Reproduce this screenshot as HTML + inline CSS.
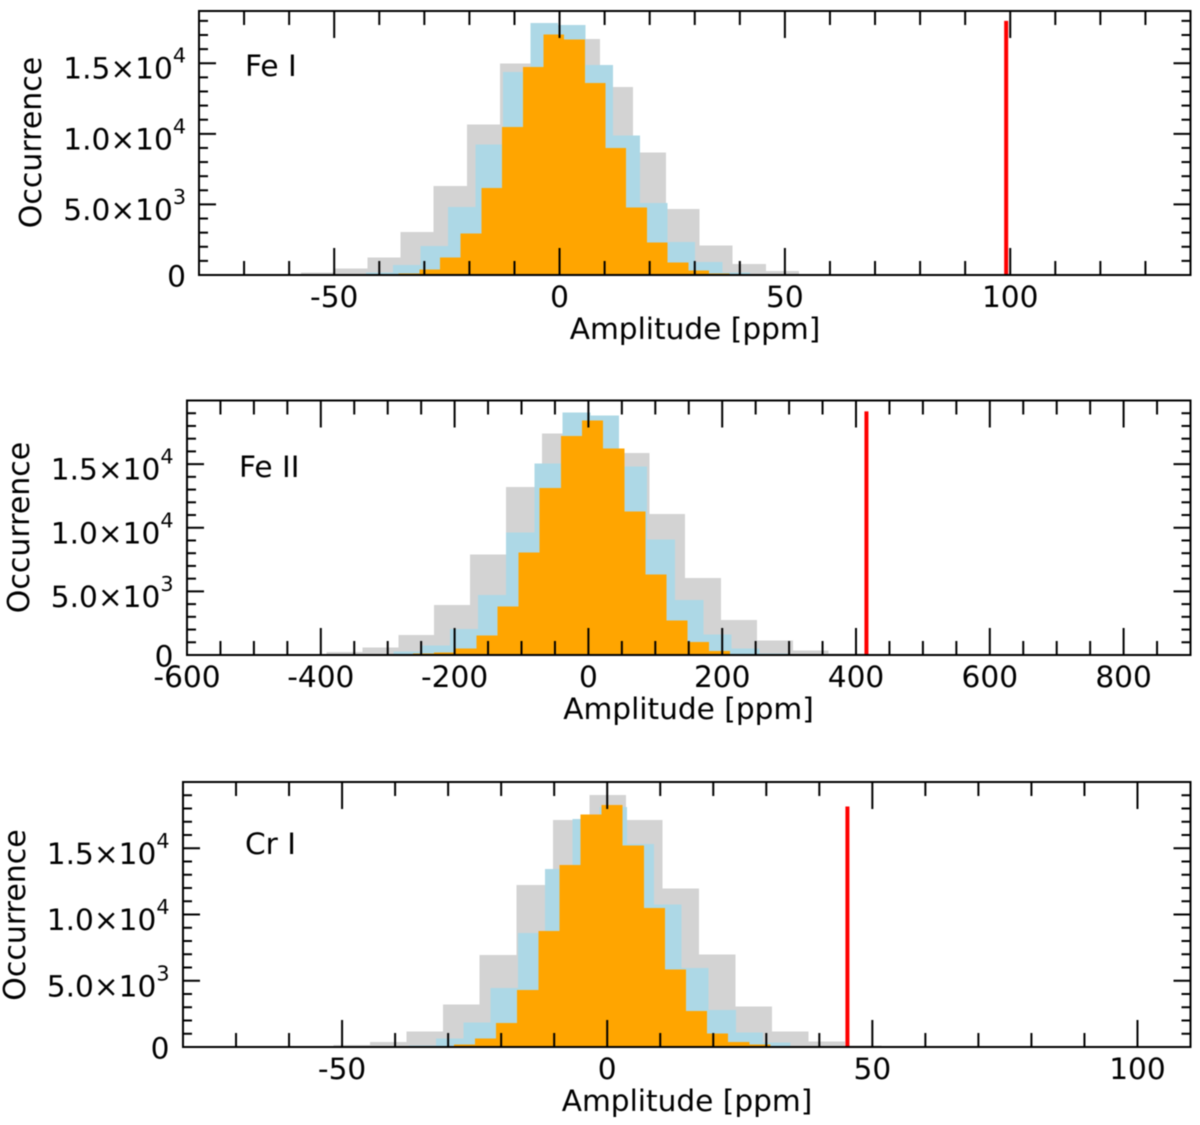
<!DOCTYPE html>
<html lang="en">
<head>
<meta charset="utf-8">
<title>Amplitude histograms</title>
<style>
html,body{margin:0;padding:0;background:#fff;}
svg{display:block;font-family:"DejaVu Sans","Liberation Sans",sans-serif;fill:#000;filter:blur(0.5px);}
</style>
</head>
<body>
<svg id="chart" xmlns="http://www.w3.org/2000/svg" width="1200" height="1125" viewBox="0 0 1200 1125"></svg>
<script>
// ---- Shared tick data
const yTickValues = [0, 5000, 10000, 15000];
const yTickMantissas = ['0', '5.0×10', '1.0×10', '1.5×10'];
const yTickExponents = ['', '3', '4', '4'];

// ---- Fe I data
const feIXTicks = [-50, 0, 50, 100];
const feIGrayBins = [-57.4, 7.37];
const feIGrayCounts = [165, 471, 1225, 3038, 6288, 10668, 14978, 17000, 16720, 13306, 8690, 4686, 2096, 777, 283, 70];
const feIBlueBins = [-43, 6.09];
const feIBlueCounts = [165, 706, 2049, 4828, 9232, 14366, 17851, 17710, 14884, 9891, 5110, 2355, 918, 165];
const feIOrangeBins = [-35.7, 4.59];
const feIOrangeCounts = [94, 400, 1248, 2944, 6147, 10480, 14719, 17027, 16697, 13588, 8996, 4781, 2308, 895, 306, 94];
const feIMeasured = [99.1, 18000];

// ---- Fe II data
const feIIXTicks = [-600, -400, -200, 0, 200, 400, 600, 800];
const feIIGrayBins = [-391.3, 53.6];
const feIIGrayCounts = [235, 576, 1570, 3924, 7900, 13185, 17396, 18574, 15879, 11066, 6069, 2747, 1125, 366, 131];
const feIIBlueBins = [-291.2, 42.1];
const feIIBlueCounts = [262, 732, 2040, 4709, 9627, 15068, 19044, 18835, 14833, 9078, 4316, 1622, 523, 131];
const feIIOrangeBins = [-262.4, 31.6];
const feIIOrangeCounts = [131, 183, 523, 1517, 3793, 8057, 13132, 17213, 18443, 16245, 11275, 6331, 2721, 1020, 314, 78];
const feIIMeasured = [415.6, 19150];

// ---- Cr I data
const crIXTicks = [-50, 0, 50, 100];
const crIGrayBins = [-51.6, 6.89];
const crIGrayCounts = [151, 377, 1156, 3217, 6936, 12213, 17115, 19024, 17115, 11962, 6986, 3041, 1156, 402, 126];
const crIBlueBins = [-37.4, 5.14];
const crIBlueCounts = [126, 653, 1834, 4448, 8620, 13420, 17216, 18095, 15304, 10756, 5956, 2789, 1106, 352];
const crIOrangeBins = [-32.9, 3.98];
const crIOrangeCounts = [50, 176, 653, 1809, 4297, 8745, 13747, 17541, 18270, 15204, 10480, 5856, 2714, 1030, 377, 176];
const crIMeasured = [45.3, 18150];

const NS = 'http://www.w3.org/2000/svg';
const root = document.getElementById('chart');
const FONT = 29.6;

function node(tag, parent, attrs) {
  const el = document.createElementNS(NS, tag);
  for (const k in attrs) el.setAttribute(k, attrs[k]);
  parent.appendChild(el);
  return el;
}

function drawBars(g, bins, counts, color, x, y, base, seriesName) {
  const start = bins[0], width = bins[1];
  counts.forEach(function (c, i) {
    const x0 = x(start + i * width), x1 = x(start + (i + 1) * width);
    const r = node('rect', g, {x: x0, y: y(c), width: x1 - x0, height: base - y(c), fill: color, 'shape-rendering': 'crispEdges'});
    
    
  });
}

function drawPanel(p) {
  const g = node('g', root, {});
  
  

  const x = function (v) { return p.left + (v - p.xMin) / (p.xMax - p.xMin) * (p.right - p.left); };
  const y = function (v) { return p.bottom - (v / p.yMax) * (p.bottom - p.top); };

  drawBars(g, p.grayBins, p.grayCounts, '#d3d3d3', x, y, p.bottom, p.name + '-all-lines');
  drawBars(g, p.blueBins, p.blueCounts, '#add8e6', x, y, p.bottom, p.name + '-subset-lines');
  drawBars(g, p.orangeBins, p.orangeCounts, '#ffa500', x, y, p.bottom, p.name + '-best-lines');

  const red = node('line', g, {x1: x(p.measured[0]), x2: x(p.measured[0]), y1: y(p.measured[1]), y2: p.bottom, stroke: '#ff0000', 'stroke-width': 4});
  
  

  // x ticks (minor + major, top and bottom, pointing inward)
  for (let v = p.xMin + p.xMinor; v < p.xMax - 1e-6; v += p.xMinor) {
    const major = p.xTicks.indexOf(v) >= 0 || Math.abs(v % p.xMajor) < 1e-6;
    const len = major ? 27 : 14;
    const b = node('line', g, {x1: x(v), x2: x(v), y1: p.bottom, y2: p.bottom - len, stroke: '#000', 'stroke-width': 2});
    
    
    const t = node('line', g, {x1: x(v), x2: x(v), y1: p.top, y2: p.top + len, stroke: '#000', 'stroke-width': 2});
    
    
  }

  // y ticks, every 1000 counts
  for (let v = 1000; v < p.yMax - 1; v += 1000) {
    const len = v % 5000 === 0 ? 17 : 9;
    const l = node('line', g, {x1: p.left, x2: p.left + len, y1: y(v), y2: y(v), stroke: '#000', 'stroke-width': 2});
    
    
    const r = node('line', g, {x1: p.right, x2: p.right - len, y1: y(v), y2: y(v), stroke: '#000', 'stroke-width': 2});
    
    
  }

  const frame = node('rect', g, {x: p.left, y: p.top, width: p.right - p.left, height: p.bottom - p.top, fill: 'none', stroke: '#000', 'stroke-width': 2});
  
  

  // x tick labels
  p.xTicks.forEach(function (v) {
    const t = node('text', g, {x: x(v), y: p.xLabelY, 'text-anchor': 'middle', 'font-size': FONT});
    t.textContent = String(v);
    
    
  });

  // y tick labels
  yTickValues.forEach(function (v, i) {
    const t = node('text', g, {x: p.yLabelRight, y: y(v) + (v === 0 ? 11.5 : 15.5), 'text-anchor': 'end', 'font-size': FONT});
    
    
    const m = node('tspan', t, {});
    m.textContent = yTickMantissas[i];
    if (yTickExponents[i]) {
      const s = node('tspan', t, {dy: -16, 'font-size': FONT * 0.7});
      s.textContent = yTickExponents[i];
    }
  });

  const xt = node('text', g, {x: p.xTitleX, y: p.xTitleY, 'text-anchor': 'middle', 'font-size': FONT});
  xt.textContent = 'Amplitude [ppm]';
  
  

  const yt = node('text', g, {transform: 'translate(' + p.yTitleX + ' ' + p.yTitleY + ') rotate(-90)', 'text-anchor': 'middle', 'font-size': 30});
  yt.textContent = 'Occurrence';
  
  

  const lab = node('text', g, {x: p.labelX, y: p.labelY, 'font-size': FONT});
  lab.textContent = p.label;
  
  
}

drawPanel({
  name: 'fe-i', label: 'Fe I',
  left: 199, right: 1190.5, top: 11, bottom: 275,
  xMin: -80, xMax: 140, xMinor: 10, xMajor: 50, yMax: 18700,
  xTicks: feIXTicks, measured: feIMeasured,
  grayBins: feIGrayBins, grayCounts: feIGrayCounts,
  blueBins: feIBlueBins, blueCounts: feIBlueCounts,
  orangeBins: feIOrangeBins, orangeCounts: feIOrangeCounts,
  xLabelY: 307, yLabelRight: 186, xTitleX: 695, xTitleY: 339,
  yTitleX: 41, yTitleY: 142.5, labelX: 245, labelY: 76
});
drawPanel({
  name: 'fe-ii', label: 'Fe II',
  left: 187, right: 1190.5, top: 400.5, bottom: 655,
  xMin: -600, xMax: 900, xMinor: 50, xMajor: 200, yMax: 20000,
  xTicks: feIIXTicks, measured: feIIMeasured,
  grayBins: feIIGrayBins, grayCounts: feIIGrayCounts,
  blueBins: feIIBlueBins, blueCounts: feIIBlueCounts,
  orangeBins: feIIOrangeBins, orangeCounts: feIIOrangeCounts,
  xLabelY: 687, yLabelRight: 173.5, xTitleX: 688.5, xTitleY: 719,
  yTitleX: 29, yTitleY: 527.5, labelX: 239, labelY: 477
});
drawPanel({
  name: 'cr-i', label: 'Cr I',
  left: 183, right: 1190.5, top: 782, bottom: 1047,
  xMin: -80, xMax: 110, xMinor: 10, xMajor: 50, yMax: 20000,
  xTicks: crIXTicks, measured: crIMeasured,
  grayBins: crIGrayBins, grayCounts: crIGrayCounts,
  blueBins: crIBlueBins, blueCounts: crIBlueCounts,
  orangeBins: crIOrangeBins, orangeCounts: crIOrangeCounts,
  xLabelY: 1079, yLabelRight: 169.5, xTitleX: 687, xTitleY: 1111,
  yTitleX: 25, yTitleY: 915, labelX: 245, labelY: 854
});
</script>
</body>
</html>
